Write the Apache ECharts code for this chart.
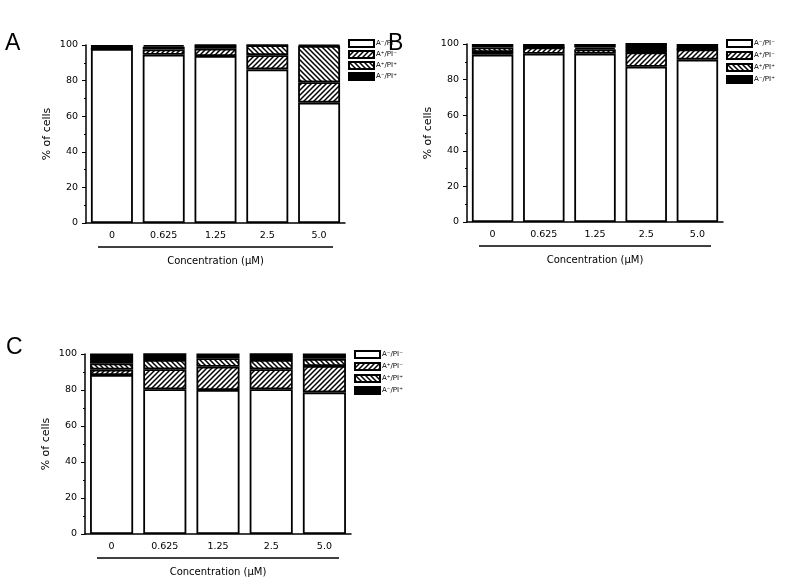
<!DOCTYPE html>
<html><head><meta charset="utf-8">
<script src="https://cdn.jsdelivr.net/npm/echarts@6/dist/echarts.min.js"></script>
<style>html,body{margin:0;background:#fff}#c{width:787px;height:579px}</style>
</head><body><div id="c"></div>
<script>
const categories = ['0', '0.625', '1.25', '2.5', '5.0'];
const seriesNames = ['A⁻/PI⁻', 'A⁺/PI⁻', 'A⁺/PI⁺', 'A⁻/PI⁺'];
const xTitle = 'Concentration (µM)';
const yTitle = '% of cells';
const panelLetters = ['A', 'B', 'C'];

// Panel A
const A_live  = [97.8, 94.5, 93.8, 86.3, 67.6];
const A_early = [0.0, 3.0, 4.1, 8.0, 11.5];
const A_late  = [0.0, 1.5, 1.9, 5.6, 20.4];
const A_nec   = [2.2, 1.0, 0.2, 0.1, 0.5];
// Panel B
const B_live  = [94.0, 94.5, 94.5, 87.2, 91.2];
const B_early = [1.5, 3.5, 2.5, 8.0, 5.8];
const B_late  = [2.5, 0.0, 1.0, 0.3, 0.0];
const B_nec   = [2.0, 2.0, 2.0, 5.5, 3.0];
// Panel C
const C_live  = [88.3, 80.4, 80.0, 80.4, 78.7];
const C_early = [3.0, 11.1, 12.9, 11.1, 14.6];
const C_late  = [3.5, 5.2, 4.8, 5.2, 4.0];
const C_nec   = [5.5, 3.7, 2.6, 3.7, 3.0];

function makePattern(dir) {
  const s = 5;
  const c = document.createElement('canvas');
  c.width = s; c.height = s;
  const g = c.getContext('2d');
  g.fillStyle = '#fff'; g.fillRect(0, 0, s, s);
  g.strokeStyle = '#000'; g.lineWidth = 1.5;
  g.beginPath();
  if (dir > 0) {
    g.moveTo(0, s); g.lineTo(s, 0);
    g.moveTo(-1, 1); g.lineTo(1, -1);
    g.moveTo(s - 1, s + 1); g.lineTo(s + 1, s - 1);
  } else {
    g.moveTo(0, 0); g.lineTo(s, s);
    g.moveTo(-1, s - 1); g.lineTo(1, s + 1);
    g.moveTo(s - 1, -1); g.lineTo(s + 1, 1);
  }
  g.stroke();
  return { image: c, repeat: 'repeat' };
}
const fills = ['#ffffff', makePattern(1), makePattern(-1), '#000000'];
const FONT = 'DejaVu Sans';

const panels = [
  { data: [A_live, A_early, A_late, A_nec], grid: { left: 86, top: 45, width: 259, height: 178 }, legendTop: 39, legendGap: 2 },
  { data: [B_live, B_early, B_late, B_nec], grid: { left: 467, top: 44, width: 256, height: 178 }, legendTop: 39, legendGap: 3 },
  { data: [C_live, C_early, C_late, C_nec], grid: { left: 85, top: 354, width: 266, height: 180 }, legendTop: 350, legendGap: 3 }
];

const chart = echarts.init(document.getElementById('c'), null, { renderer: 'canvas' });
const grids = [], xAxes = [], yAxes = [], series = [], legends = [], titles = [], graphics = [];
panels.forEach((p, i) => {
  grids.push(p.grid);
  xAxes.push({
    type: 'category', gridIndex: i, data: categories,
    axisLine: { lineStyle: { color: '#000', width: 1.5 } },
    axisTick: { show: false },
    axisLabel: { color: '#000', fontSize: 9.5, fontFamily: FONT, margin: 8 },
    name: xTitle, nameLocation: 'middle', nameGap: 33,
    nameTextStyle: { color: '#000', fontSize: 10, fontFamily: FONT }
  });
  yAxes.push({
    type: 'value', gridIndex: i, min: 0, max: 100, interval: 20,
    axisLine: { show: true, lineStyle: { color: '#000', width: 1.5 } },
    axisTick: { show: true, length: 4, lineStyle: { color: '#000', width: 1 } },
    minorTick: { show: true, splitNumber: 2, length: 2, lineStyle: { color: '#000', width: 1 } },
    splitLine: { show: false },
    axisLabel: { color: '#000', fontSize: 9.5, fontFamily: FONT, margin: 8 },
    name: yTitle, nameLocation: 'middle', nameGap: 33, nameRotate: 90,
    nameTextStyle: { color: '#000', fontSize: 11, fontFamily: FONT }
  });
  seriesNames.forEach((n, k) => {
    series.push({
      type: 'bar', name: n, xAxisIndex: i, yAxisIndex: i, stack: 'p' + i,
      data: p.data[k], barWidth: '81%',
      itemStyle: { color: fills[k], borderColor: '#000', borderWidth: 1.8 },
      emphasis: { disabled: true }
    });
  });
  const g = p.grid;
  legends.push({
    data: seriesNames.map(n => ({ name: n, icon: 'rect' })), orient: 'vertical',
    left: g.left + g.width + 3, top: p.legendTop, padding: 0,
    itemWidth: 25, itemHeight: 7, itemGap: p.legendGap, selectedMode: false,
    textStyle: { fontSize: 7, lineHeight: 8, color: '#000', fontFamily: FONT, padding: [0, 0, 0, -3] }
  });
  graphics.push({
    type: 'line', silent: true,
    shape: { x1: g.left + 12, y1: g.top + g.height + 24, x2: g.left + g.width - 12, y2: g.top + g.height + 24 },
    style: { stroke: '#000', lineWidth: 1.5 }
  });
});
const letterStyle = { fontSize: 23, fontWeight: 'normal', color: '#000', fontFamily: 'Liberation Sans' };
titles.push(
  { text: panelLetters[0], left: 5, top: 32, textStyle: letterStyle, padding: 0 },
  { text: panelLetters[1], left: 388, top: 32, textStyle: letterStyle, padding: 0 },
  { text: panelLetters[2], left: 6, top: 336, textStyle: letterStyle, padding: 0 }
);

chart.setOption({
  animation: false,
  backgroundColor: '#fff',
  title: titles,
  grid: grids, xAxis: xAxes, yAxis: yAxes, series: series,
  legend: legends,
  graphic: graphics
});
</script></body></html>
